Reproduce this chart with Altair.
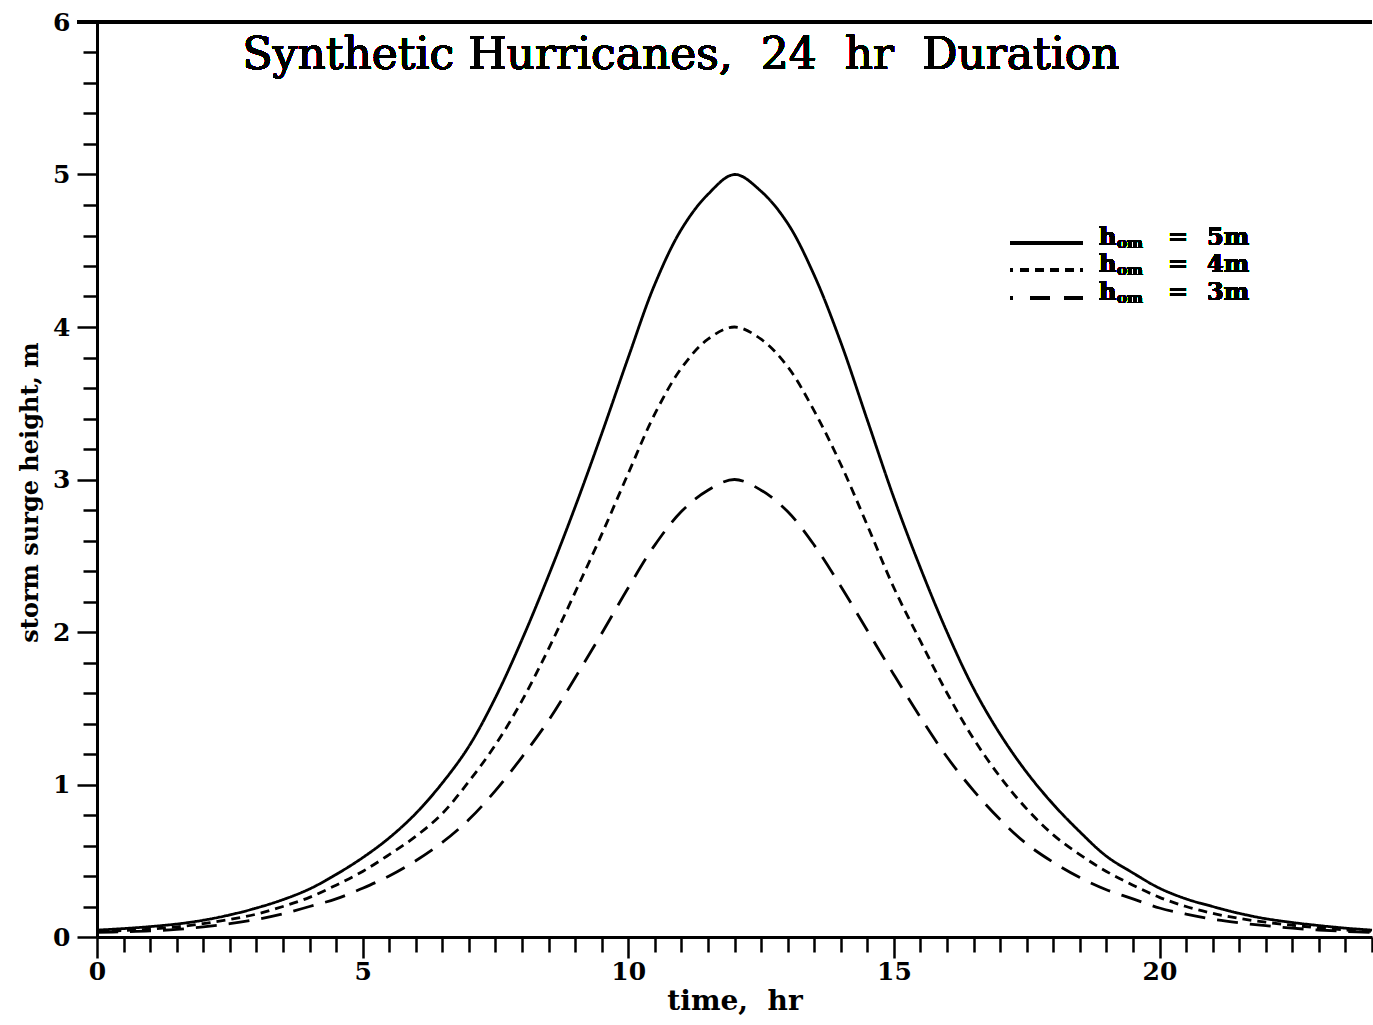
import altair as alt
import pandas as pd

# ---- data ----
time_hr = [0, 0.5, 1, 1.5, 2, 2.5, 3, 3.5, 4, 4.5, 5, 5.5, 6, 6.5, 7, 7.5, 8, 8.5,
           9, 9.5, 10, 10.5, 11, 11.5, 12, 12.5, 13, 13.5, 14, 14.5, 15, 15.5, 16,
           16.5, 17, 17.5, 18, 18.5, 19, 19.5, 20, 20.5, 21, 21.5, 22, 22.5, 23,
           23.5, 24]

surge_5m = [0.045, 0.055, 0.068, 0.085, 0.11, 0.145, 0.19, 0.245, 0.315, 0.41, 0.52,
            0.65, 0.81, 1.01, 1.25, 1.57, 1.95, 2.37, 2.82, 3.30, 3.80, 4.28, 4.64,
            4.87, 5.00, 4.89, 4.68, 4.34, 3.90, 3.39, 2.88, 2.42, 2.00, 1.63, 1.33,
            1.08, 0.87, 0.69, 0.53, 0.42, 0.32, 0.25, 0.20, 0.155, 0.12, 0.095,
            0.075, 0.058, 0.045]

surge_4m = [0.035, 0.042, 0.052, 0.066, 0.088, 0.115, 0.15, 0.20, 0.26, 0.34, 0.43,
            0.54, 0.66, 0.81, 1.02, 1.26, 1.55, 1.89, 2.26, 2.64, 3.04, 3.43, 3.73,
            3.92, 4.00, 3.92, 3.74, 3.45, 3.10, 2.70, 2.29, 1.94, 1.60, 1.30, 1.05,
            0.84, 0.67, 0.54, 0.43, 0.34, 0.26, 0.20, 0.155, 0.122, 0.097, 0.077,
            0.06, 0.046, 0.036]

surge_3m = [0.03, 0.034, 0.04, 0.05, 0.066, 0.087, 0.115, 0.152, 0.20, 0.25, 0.32,
            0.40, 0.50, 0.62, 0.77, 0.96, 1.18, 1.42, 1.70, 1.99, 2.29, 2.57, 2.79,
            2.93, 3.00, 2.93, 2.79, 2.57, 2.30, 2.01, 1.72, 1.44, 1.18, 0.96, 0.77,
            0.61, 0.49, 0.39, 0.31, 0.25, 0.19, 0.15, 0.117, 0.093, 0.074, 0.058,
            0.046, 0.037, 0.03]

series_names = ["h_om = 5m", "h_om = 4m", "h_om = 3m"]
legend_values = ["5m", "4m", "3m"]

x_ticks = [0, 0.5, 1, 1.5, 2, 2.5, 3, 3.5, 4, 4.5, 5, 5.5, 6, 6.5, 7, 7.5, 8, 8.5,
           9, 9.5, 10, 10.5, 11, 11.5, 12, 12.5, 13, 13.5, 14, 14.5, 15, 15.5, 16,
           16.5, 17, 17.5, 18, 18.5, 19, 19.5, 20, 20.5, 21, 21.5, 22, 22.5, 23,
           23.5, 24]
y_ticks = [0, 0.2, 0.4, 0.6, 0.8, 1, 1.2, 1.4, 1.6, 1.8, 2, 2.2, 2.4, 2.6, 2.8, 3,
           3.2, 3.4, 3.6, 3.8, 4, 4.2, 4.4, 4.6, 4.8, 5, 5.2, 5.4, 5.6, 5.8, 6]

rows = []
for name, vals in zip(series_names, [surge_5m, surge_4m, surge_3m]):
    for t, v in zip(time_hr, vals):
        rows.append({"time": t, "surge": v, "series": name})
df = pd.DataFrame(rows)

W, H = 1275, 915
SERIF = "DejaVu Serif"
LW = 2.8
NB = "\u00a0"
dash_solid = [1, 0]
dash_short = [9, 6]
dash_long = [21, 12]

x_scale = alt.Scale(domain=[0, 24], nice=False, zero=False)
y_scale = alt.Scale(domain=[0, 6], nice=False)

x_major = "abs(datum.value % 5) < 0.001"
y_major = "abs(datum.value - round(datum.value)) < 0.001"

x_axis = alt.Axis(
    values=x_ticks, tickCount=500,
    labelExpr=x_major + " ? format(datum.value, 'd') : ''",
    tickSize={"condition": {"test": x_major, "value": 21}, "value": 15},
    tickWidth=2.5, tickColor="black",
    domainWidth=3, domainColor="black",
    labelFont=SERIF, labelFontWeight="bold", labelFontSize=25, labelColor="black",
    labelPadding=1, labelOverlap=False, labelFlush=False,
    title="time," + NB + NB + "hr", titleFont=SERIF, titleFontWeight="bold", titleFontSize=28,
    titleColor="black", titlePadding=3, grid=False,
)
y_axis = alt.Axis(
    values=y_ticks, tickCount=500,
    labelExpr=y_major + " ? format(datum.value, 'd') : ''",
    tickSize={"condition": {"test": y_major, "value": 20}, "value": 14},
    tickWidth=2.5, tickColor="black",
    domainWidth=3, domainColor="black",
    labelFont=SERIF, labelFontWeight="bold", labelFontSize=25, labelColor="black",
    labelPadding=7, labelOverlap=False, labelFlush=False,
    title="storm" + NB + "surge" + NB + "height," + NB + "m", titleFont=SERIF,
    titleFontWeight="bold", titleFontSize=24, titleColor="black", titlePadding=10,
    titleY=470, grid=False,
)

lines = alt.Chart(df).mark_line(strokeWidth=LW, color="black", interpolate="catmull-rom").encode(
    x=alt.X("time:Q", scale=x_scale, axis=x_axis),
    y=alt.Y("surge:Q", scale=y_scale, axis=y_axis),
    strokeDash=alt.StrokeDash("series:N", scale=alt.Scale(domain=series_names,
                                                          range=[dash_solid, dash_short, dash_long]),
                              legend=None),
    detail="series:N",
)

top_frame = alt.Chart(df).mark_rule(strokeWidth=3, color="black").encode(
    y=alt.datum(6, scale=y_scale), x=alt.value(-20), x2=alt.value(W)
)

title_text = ("Synthetic" + NB + "Hurricanes," + NB + NB + "24" + NB + NB + "hr"
              + NB + NB + "Duration")
title = alt.Chart(df).mark_text(
    text=title_text, font=SERIF, fontSize=44,
    fontWeight="normal", color="black", align="center", baseline="alphabetic"
).encode(x=alt.value(584), y=alt.value(47))

# legend (drawn manually, top right of plot)
leg = []
row_y = [221, 248, 276]
leg.append(alt.Chart(df).mark_rule(strokeWidth=LW, color="black").encode(
    x=alt.value(913), x2=alt.value(986), y=alt.value(row_y[0])))
for r, dsh in [(1, dash_short), (2, [20, 14])]:
    leg.append(alt.Chart(df).mark_rule(strokeWidth=LW, color="black").encode(
        x=alt.value(913), x2=alt.value(916), y=alt.value(row_y[r])))
    leg.append(alt.Chart(df).mark_rule(strokeWidth=LW, color="black", strokeDash=dsh).encode(
        x=alt.value(923 if r == 1 else 933), x2=alt.value(986), y=alt.value(row_y[r])))
for r, val in enumerate(legend_values):
    base = row_y[r] + 2
    leg.append(alt.Chart(df).mark_text(text="h", font=SERIF, fontWeight="bold", fontSize=24,
                                       align="left", baseline="alphabetic", color="black")
               .encode(x=alt.value(1002), y=alt.value(base)))
    leg.append(alt.Chart(df).mark_text(text="om", font=SERIF, fontWeight="bold", fontSize=15,
                                       align="left", baseline="alphabetic", color="black")
               .encode(x=alt.value(1020), y=alt.value(base + 3)))
    leg.append(alt.Chart(df).mark_text(text="=", font=SERIF, fontWeight="bold", fontSize=24,
                                       align="left", baseline="alphabetic", color="black")
               .encode(x=alt.value(1071), y=alt.value(base)))
    leg.append(alt.Chart(df).mark_text(text=val, font=SERIF, fontWeight="bold", fontSize=24,
                                       align="left", baseline="alphabetic", color="black")
               .encode(x=alt.value(1110), y=alt.value(base)))

chart = alt.layer(lines, top_frame, title, *leg).properties(
    width=W, height=H,
    autosize=alt.AutoSizeParams(type="none"),
    padding={"left": 97, "top": 22, "right": 1, "bottom": 88},
    background="white",
).configure_view(stroke=None)

chart.save("out.html", embed_options={"renderer": "svg", "actions": False})
